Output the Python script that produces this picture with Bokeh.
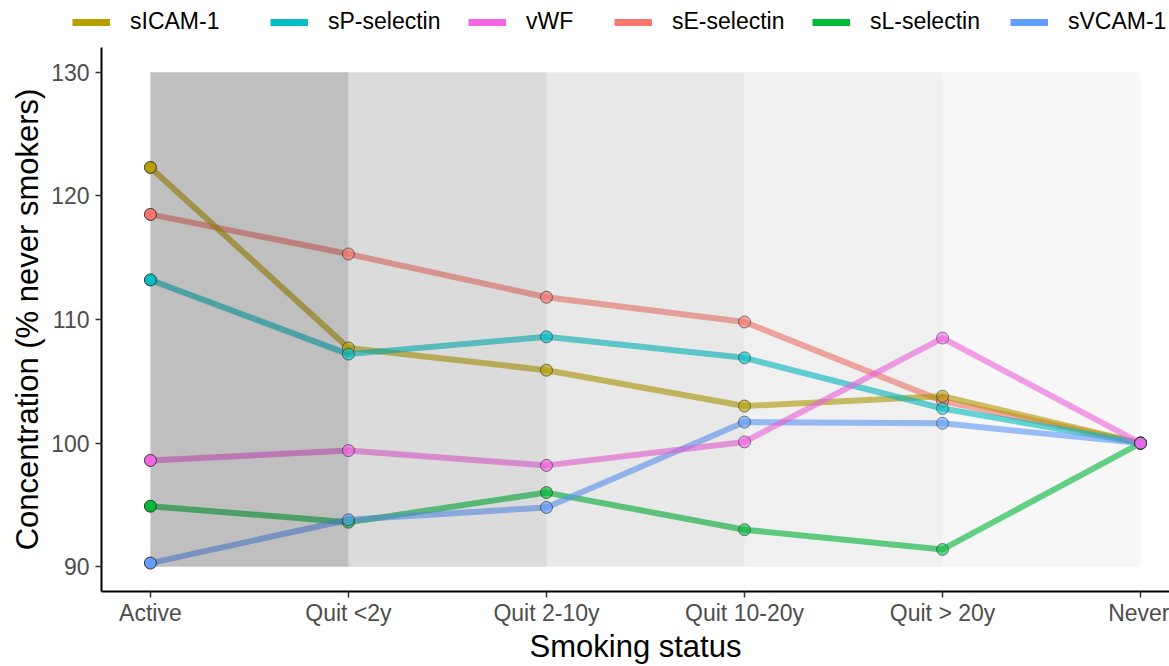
from bokeh.plotting import figure
from bokeh.layouts import column, row
from bokeh.models import FixedTicker, Legend, LegendItem, ColumnDataSource
from bokeh.embed import file_html
from bokeh.resources import INLINE

# ---- data ----
statuses = ["Active", "Quit <2y", "Quit 2-10y", "Quit 10-20y", "Quit > 20y", "Never"]
sE_selectin = [118.5, 115.3, 111.8, 109.8, 103.4, 100.0]
sICAM_1 = [122.3, 107.7, 105.9, 103.0, 103.8, 100.0]
sL_selectin = [94.9, 93.6, 96.0, 93.0, 91.4, 100.0]
sP_selectin = [113.2, 107.2, 108.6, 106.9, 102.8, 100.0]
sVCAM_1 = [90.3, 93.8, 94.8, 101.7, 101.6, 100.0]
vWF = [98.6, 99.4, 98.2, 100.1, 108.5, 100.0]
y_ticks = [90, 100, 110, 120, 130]

# draw order (alphabetical factor levels) and legend order
series_names = ["sE-selectin", "sICAM-1", "sL-selectin", "sP-selectin", "sVCAM-1", "vWF"]
series_vals = [sE_selectin, sICAM_1, sL_selectin, sP_selectin, sVCAM_1, vWF]
colors = ["#F8766D", "#B79F00", "#00BA38", "#00BFC4", "#619CFF", "#F564E3"]
legend_order = ["sICAM-1", "sP-selectin", "vWF", "sE-selectin", "sL-selectin", "sVCAM-1"]

# styles
band_alpha = [0.25, 0.14, 0.09, 0.06, 0.03]
point_alpha = [1.0, 0.65, 0.65, 0.6, 0.55, 0.85]

xs = list(range(len(statuses)))
nan = float("nan")

# ---- legend strip ----
lg = figure(width=1169, height=47, output_backend="svg", toolbar_location=None,
            x_axis_type=None, y_axis_type=None, x_range=(0, 1), y_range=(0, 1),
            min_border_left=0, min_border_right=0, min_border_top=0, min_border_bottom=0)
lg.outline_line_color = None
lg.xgrid.visible = False
lg.ygrid.visible = False


def make_legend(names, loc):
    its = []
    for name in names:
        c = colors[series_names.index(name)]
        r = lg.line(x=[nan], y=[nan], line_width=7, line_color=c)
        its.append(LegendItem(label=name, renderers=[r]))
    return Legend(items=its, orientation="horizontal", location=loc,
                  label_text_font="Liberation Sans", label_text_font_size="23px",
                  label_text_color="black", glyph_width=38, glyph_height=20,
                  label_standoff=20, label_width=140, spacing=0, padding=0, margin=0,
                  border_line_color=None, background_fill_alpha=0)


lg.add_layout(make_legend(legend_order[:3], (72, 12)), "center")
lg.add_layout(make_legend(legend_order[3:], (614, 12)), "center")

# ---- main plot ----
p = figure(width=1169, height=619, output_backend="svg", toolbar_location=None,
           x_range=(-0.247, 5.146), y_range=(88, 132),
           min_border_left=101, min_border_right=0, min_border_top=0, min_border_bottom=0)
p.background_fill_color = "white"
p.border_fill_color = "white"
p.outline_line_color = None
p.xgrid.visible = False
p.ygrid.visible = False

# lines
for name, vals, c in zip(series_names, series_vals, colors):
    p.line(x=xs, y=vals, line_width=6, line_color=c, line_alpha=0.6, line_join="round")

# shaded bands (drawn over the lines)
band_src = ColumnDataSource(dict(
    left=xs[:-1], right=xs[1:],
    bottom=[min(y_ticks)] * (len(xs) - 1), top=[max(y_ticks)] * (len(xs) - 1),
    a=band_alpha))
p.quad(left="left", right="right", bottom="bottom", top="top", source=band_src,
       fill_color="black", fill_alpha="a", line_color=None)

# points
for name, vals, c in zip(series_names, series_vals, colors):
    src = ColumnDataSource(dict(x=xs, y=vals, a=point_alpha))
    p.scatter(x="x", y="y", source=src, size=12, fill_color=c, fill_alpha="a",
              line_color="#333333", line_alpha="a", line_width=1)

# axes
for ax in (p.xaxis[0], p.yaxis[0]):
    ax.axis_line_color = "black"
    ax.axis_line_width = 2
    ax.major_tick_line_color = "#333333"
    ax.major_tick_line_width = 1.5
    ax.major_tick_out = 6
    ax.major_tick_in = 0
    ax.minor_tick_line_color = None
    ax.major_label_text_font = "Liberation Sans"
    ax.major_label_text_font_size = "23px"
    ax.major_label_text_color = "#4D4D4D"
    ax.axis_label_text_font = "Liberation Sans"
    ax.axis_label_text_font_size = "31px"
    ax.axis_label_text_font_style = "normal"
    ax.axis_label_text_color = "black"

p.xaxis.ticker = FixedTicker(ticks=xs)
p.xaxis.major_label_overrides = {i: s for i, s in enumerate(statuses)}
p.xaxis.axis_label = "Smoking status"
p.xaxis.major_label_standoff = 2
p.xaxis.axis_label_standoff = 0

p.yaxis.ticker = FixedTicker(ticks=y_ticks)
p.yaxis.axis_label = "Concentration (% never smokers)"
p.yaxis.major_label_standoff = 6
p.yaxis.axis_label_standoff = 3

layout = column(row(lg), p, spacing=0)
open("out.html", "w").write(file_html(layout, INLINE))
